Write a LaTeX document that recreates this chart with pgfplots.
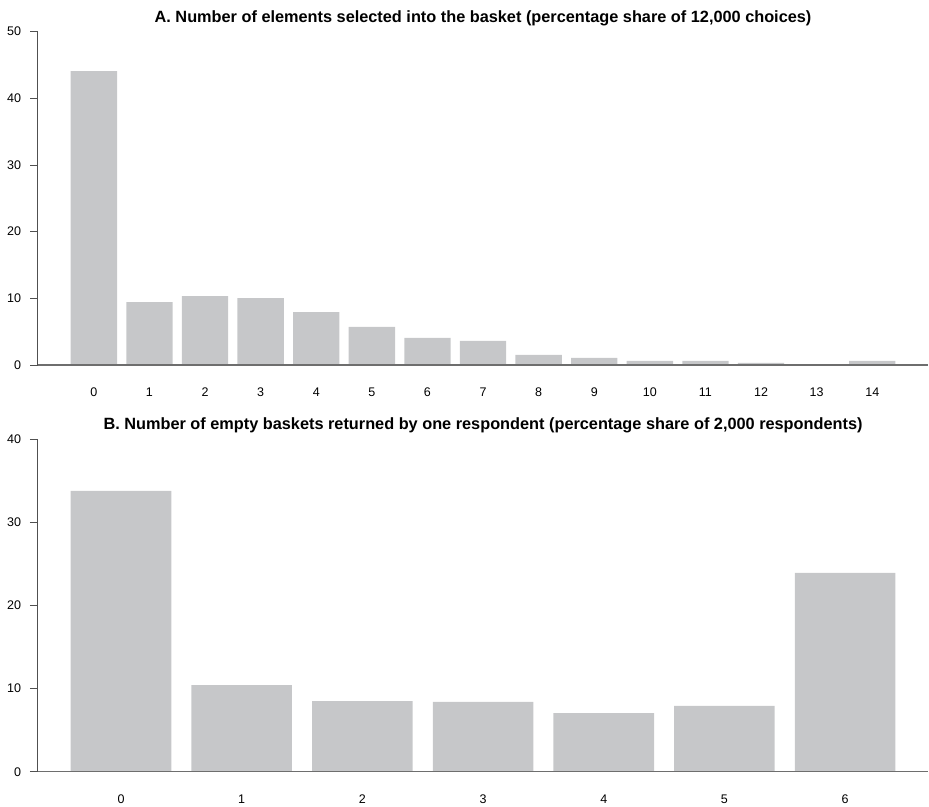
\documentclass[border=0pt]{standalone}
\usepackage{pgfplots}
\pgfplotsset{compat=1.18}
\usepackage{fontspec}
\setmainfont{Liberation Sans}

\definecolor{barfill}{RGB}{198,199,201}
\definecolor{axisgrey}{RGB}{80,80,80}
\definecolor{zerogrey}{RGB}{110,110,110}

% Panel A: share of 12,000 choices by number of elements in the basket
\pgfplotstableread{
n share
0 44.1
1 9.45
2 10.35
3 10.05
4 7.95
5 5.7
6 4.05
7 3.6
8 1.5
9 1.05
10 0.6
11 0.6
12 0.3
13 0.1
14 0.6
}\elementsdata

% Panel B: share of 2,000 respondents by number of empty baskets
\pgfplotstableread{
n share
0 33.75
1 10.42
2 8.5
3 8.38
4 7.05
5 7.9
6 23.9
}\emptydata

\pgfplotsset{
  basket/.style={
    scale only axis,
    width=890.7pt,
    anchor=south west,
    axis on top,
    axis x line=bottom,
    axis y line=left,
    axis line style={-},
    x axis line style={draw=zerogrey, line width=1.6pt},
    y axis line style={draw=axisgrey, line width=0.9pt},
    ymin=0,
    tick align=outside,
    major tick length=7.7pt,
    xtick style={draw=none},
    ytick style={draw=axisgrey, line width=0.9pt},
    /pgf/number format/assume math mode=true,
    tick label style={font=\fontsize{12.5}{15}\selectfont},
    yticklabel style={anchor=east, xshift=-5.5pt},
    xticklabel style={anchor=base, yshift=-24pt},
    every axis title/.style={at={(0.5,1)}, anchor=base, yshift=9.5pt,
      font=\bfseries\fontsize{16.3}{19}\selectfont},
    ybar,
    bar width=0.8333,
  },
  basketbar/.style={fill=barfill, draw=none, bar shift=0pt},
}

\begin{document}
\begin{tikzpicture}
\useasboundingbox (0,0) rectangle (929pt,806pt);

\begin{axis}[basket,
  at={(37.7pt,441pt)},
  height=333.3pt,
  xmin=-1.01, xmax=15.01,
  ymax=50,
  ytick={0,10,...,50},
  xtick={0,...,14},
  title={A. Number of elements selected into the basket (percentage share of 12,000 choices)},
]
\addplot[basketbar] table[x=n, y=share] {\elementsdata};
\end{axis}

\begin{axis}[basket,
  at={(37.7pt,34.3pt)},
  height=332.7pt,
  xmin=-0.69, xmax=6.69,
  ymax=40,
  ytick={0,10,...,40},
  xtick={0,...,6},
  title={B. Number of empty baskets returned by one respondent (percentage share of 2,000 respondents)},
]
\addplot[basketbar] table[x=n, y=share] {\emptydata};
\end{axis}
\end{tikzpicture}
\end{document}
